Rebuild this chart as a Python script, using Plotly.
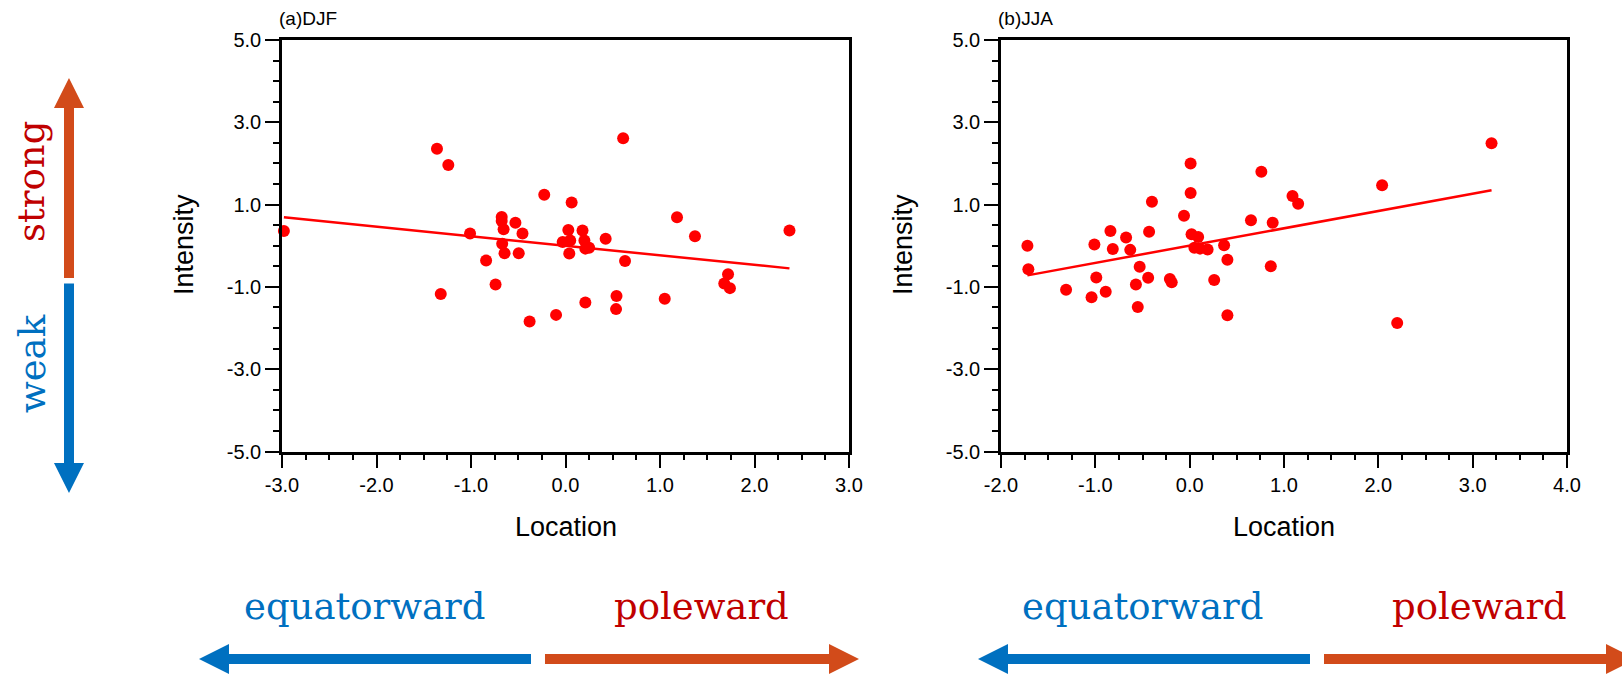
import plotly.graph_objects as go

W, H = 1622, 677

# ---------------- data ----------------
djf_location = [-2.98, -1.36, -1.24, -1.32, -1.01, -0.84, -0.74, -0.675, -0.675, -0.655,
                -0.67, -0.645, -0.53, -0.455, -0.495, -0.38, -0.225, -0.10, -0.03, 0.065,
                0.03, 0.18, 0.05, 0.20, 0.04, 0.21, 0.25, 0.425, 0.61, 0.63,
                0.21, 0.54, 0.535, 1.05, 1.18, 1.37, 1.72, 1.68, 1.74, 2.37]
djf_intensity = [0.36, 2.36, 1.96, -1.17, 0.30, -0.36, -0.94, 0.70, 0.60, 0.40,
                 0.05, -0.18, 0.56, 0.30, -0.18, -1.84, 1.24, -1.68, 0.09, 1.05,
                 0.38, 0.37, 0.13, 0.13, -0.19, -0.07, -0.05, 0.17, 2.61, -0.37,
                 -1.38, -1.22, -1.54, -1.29, 0.69, 0.23, -0.69, -0.92, -1.03, 0.37]
djf_fit_x = [-2.98, 2.37]
djf_fit_y = [0.69, -0.55]

jja_location = [-1.72, -1.71, -1.31, -1.04, -1.01, -0.99, -0.89, -0.84, -0.815, -0.674,
                -0.63, -0.53, -0.57, -0.55, -0.44, -0.43, -0.40, -0.21, -0.19, -0.06,
                0.01, 0.01, 0.02, 0.09, 0.05, 0.11, 0.19, 0.365, 0.40, 0.26,
                0.40, 0.65, 0.76, 0.88, 0.86, 1.09, 1.15, 2.04, 2.20, 3.20]
jja_intensity = [0.00, -0.57, -1.07, -1.25, 0.03, -0.77, -1.12, 0.36, -0.08, 0.20,
                 -0.10, -0.51, -0.94, -1.49, -0.78, 0.34, 1.07, -0.81, -0.89, 0.73,
                 2.00, 1.28, 0.28, 0.21, -0.05, -0.07, -0.09, 0.01, -0.34, -0.83,
                 -1.69, 0.62, 1.80, 0.56, -0.50, 1.21, 1.02, 1.47, -1.88, 2.49]
jja_fit_x = [-1.72, 3.20]
jja_fit_y = [-0.72, 1.35]

panel_titles = ["(a)DJF", "(b)JJA"]
x_ranges = [[-3, 3], [-2, 4]]
y_range = [-5, 5]
x_tickvals = [[-3, -2, -1, 0, 1, 2, 3], [-2, -1, 0, 1, 2, 3, 4]]
y_tickvals = [-5, -3, -1, 1, 3, 5]

RED = "#FF0000"
BLUE = "#0070C0"
ORANGE = "#D24B1A"
DARKRED = "#C00000"
AXFONT = "Liberation Sans, Arial, sans-serif"
SERIF = "DejaVu Serif, serif"


def fmt(v):
    return f"{v:.1f}"  # plain hyphen-minus, as in the reference


def px(x):
    return x / W


def py(y):
    return 1 - y / H


fig = go.Figure()

for i, (lx, ly, fx, fy) in enumerate([(djf_location, djf_intensity, djf_fit_x, djf_fit_y),
                                        (jja_location, jja_intensity, jja_fit_x, jja_fit_y)]):
    xa = "x" if i == 0 else "x2"
    ya = "y" if i == 0 else "y2"
    fig.add_trace(go.Scatter(x=lx, y=ly, mode="markers", xaxis=xa, yaxis=ya,
                             marker=dict(color=RED, size=12, line=dict(width=0)),
                             cliponaxis=False, showlegend=False))
    fig.add_trace(go.Scatter(x=fx, y=fy, mode="lines", xaxis=xa, yaxis=ya,
                             line=dict(color=RED, width=2.5), showlegend=False))

ydom = [py(451.5), py(40)]
xdoms = [[px(282), px(849)], [px(1001), px(1567)]]

common_axis = dict(showline=True, linecolor="black", linewidth=2.5, mirror=True,
                   ticks="outside", ticklen=14, tickwidth=2, tickcolor="black",
                   showgrid=False, zeroline=False, automargin=False,
                   tickfont=dict(family=AXFONT, size=20, color="black"))

layout = dict(width=W, height=H, margin=dict(l=0, r=0, t=0, b=0, autoexpand=False),
              paper_bgcolor="white", plot_bgcolor="white", showlegend=False)

for i in range(2):
    sx = "" if i == 0 else "2"
    layout["xaxis" + sx] = dict(common_axis, domain=xdoms[i], range=x_ranges[i],
                                 tickmode="array", tickvals=x_tickvals[i],
                                 ticktext=[fmt(v) for v in x_tickvals[i]],
                                 anchor="y" + sx,
                                 minor=dict(ticks="outside", ticklen=6, tickwidth=1.5,
                                            dtick=0.25, tick0=0, tickcolor="black"))
    layout["yaxis" + sx] = dict(common_axis, domain=ydom, range=y_range,
                                 tickmode="array", tickvals=y_tickvals,
                                 ticktext=[fmt(v) for v in y_tickvals],
                                 anchor="x" + sx,
                                 minor=dict(ticks="outside", ticklen=6, tickwidth=1.5,
                                            dtick=0.5, tick0=0, tickcolor="black"))

fig.update_layout(**layout)

annotations = []
title_x = [277, 996]
for i in range(2):
    annotations.append(dict(text=panel_titles[i], x=px(title_x[i]), y=py(19),
                            xref="paper", yref="paper", xanchor="left", yanchor="middle",
                            showarrow=False, font=dict(family=AXFONT, size=19, color="black")))
    cx = (xdoms[i][0] + xdoms[i][1]) / 2
    annotations.append(dict(text="Location", x=cx, y=py(527), xref="paper", yref="paper",
                            xanchor="center", yanchor="middle", showarrow=False,
                            font=dict(family=AXFONT, size=27, color="black")))
    ix = [184, 903][i]
    annotations.append(dict(text="Intensity", x=px(ix), y=py(245), xref="paper", yref="paper",
                            xanchor="center", yanchor="middle", showarrow=False, textangle=-90,
                            font=dict(family=AXFONT, size=27, color="black")))

for cx, word, col in [(364, "equatorward", BLUE), (701, "poleward", DARKRED),
                      (1142, "equatorward", BLUE), (1479, "poleward", DARKRED)]:
    annotations.append(dict(text=word, x=px(cx), y=py(606), xref="paper", yref="paper",
                            xanchor="center", yanchor="middle", showarrow=False,
                            font=dict(family=SERIF, size=37, color=col)))
annotations.append(dict(text="strong", x=px(32), y=py(182), xref="paper", yref="paper",
                        xanchor="center", yanchor="middle", showarrow=False, textangle=-90,
                        font=dict(family=SERIF, size=37, color=DARKRED)))
annotations.append(dict(text="weak", x=px(32), y=py(364), xref="paper", yref="paper",
                        xanchor="center", yanchor="middle", showarrow=False, textangle=-90,
                        font=dict(family=SERIF, size=37, color=BLUE)))


def poly(points):
    return "M " + " L ".join(f"{px(a):.5f},{py(b):.5f}" for a, b in points) + " Z"


shapes = []


def harrow(x_start, x_base, x_tip, yc, color, sw=5, hw=15):
    pts = [(x_start, yc - sw), (x_base, yc - sw), (x_base, yc - hw), (x_tip, yc),
           (x_base, yc + hw), (x_base, yc + sw), (x_start, yc + sw)]
    shapes.append(dict(type="path", path=poly(pts), xref="paper", yref="paper",
                       fillcolor=color, line=dict(width=0)))


def varrow(y_start, y_base, y_tip, xc, color, sw=5, hw=15):
    pts = [(xc - sw, y_start), (xc - sw, y_base), (xc - hw, y_base), (xc, y_tip),
           (xc + hw, y_base), (xc + sw, y_base), (xc + sw, y_start)]
    shapes.append(dict(type="path", path=poly(pts), xref="paper", yref="paper",
                       fillcolor=color, line=dict(width=0)))


varrow(278, 108, 78, 69, ORANGE)
varrow(283.5, 463, 493, 69, BLUE)
harrow(531, 229, 199, 659, BLUE)
harrow(545, 829, 859, 659, ORANGE)
harrow(1310, 1008, 978, 659, BLUE)
harrow(1324, 1606, 1636, 659, ORANGE)

fig.update_layout(annotations=annotations, shapes=shapes)

fig.write_html("out.html")
